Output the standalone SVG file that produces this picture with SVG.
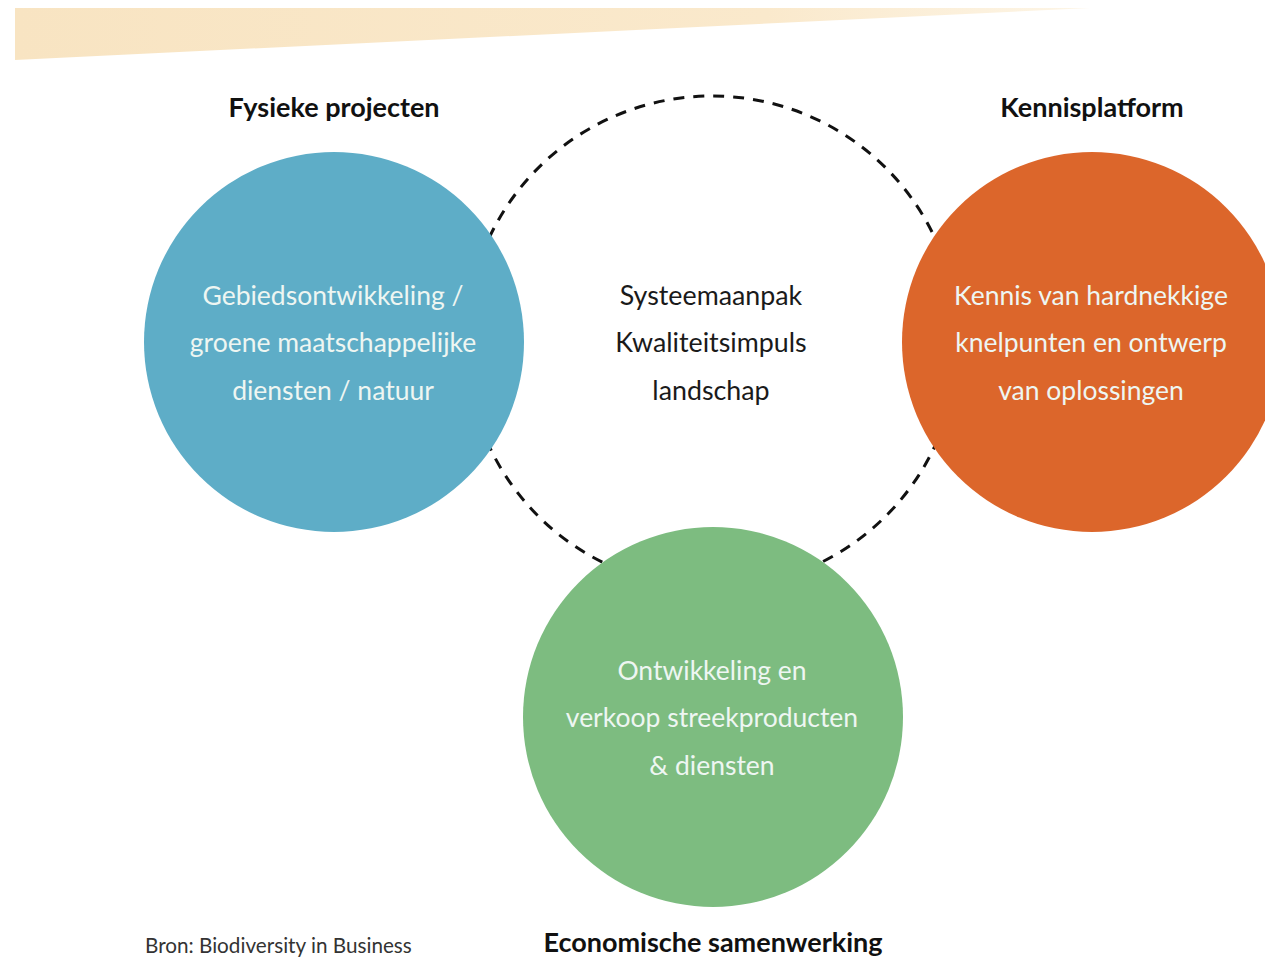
<svg xmlns="http://www.w3.org/2000/svg" width="1265" height="957" viewBox="0 0 1265 957">
<style>
.title{font-family:Lato,"Open Sans",sans-serif;font-weight:700;font-size:27px;fill:#111;text-anchor:middle}
.inner{font-family:Lato,"Open Sans",sans-serif;font-size:26.5px;fill:#EEF6F2;text-anchor:middle}
.center{font-family:Lato,"Open Sans",sans-serif;font-size:26.8px;fill:#1a1a1a;text-anchor:middle}
.src{font-family:Lato,"Open Sans",sans-serif;font-size:20.7px;fill:#333}
</style>
<defs>
<linearGradient id="band" x1="0" y1="0" x2="1" y2="0">
<stop offset="0" stop-color="#F8E4C2"/>
<stop offset="0.7" stop-color="#FAE9CC"/>
<stop offset="1" stop-color="#FDF5E6"/>
</linearGradient>
</defs>
<rect width="1265" height="957" fill="#fff"/>
<polygon points="15,8 1090,8 15,60" fill="url(#band)"/>
<g id="connectors">
<circle cx="712" cy="342" r="246" fill="none" stroke="#111" stroke-width="3" stroke-dasharray="11 9"/>
</g>
<g id="fysieke">
<circle cx="334" cy="342" r="190" fill="#5EADC7"/>
<text class="title" x="334" y="117">Fysieke projecten</text>
<text class="inner" x="333" y="305">Gebiedsontwikkeling /</text>
<text class="inner" x="333" y="352">groene maatschappelijke</text>
<text class="inner" x="333" y="400">diensten / natuur</text>
</g>
<g id="kennis">
<circle cx="1092" cy="342" r="190" fill="#DC662B"/>
<text class="title" x="1092" y="117">Kennisplatform</text>
<text class="inner" x="1091" y="305">Kennis van hardnekkige</text>
<text class="inner" x="1091" y="352">knelpunten en ontwerp</text>
<text class="inner" x="1091" y="400">van oplossingen</text>
</g>
<g id="economisch">
<circle cx="713" cy="717" r="190" fill="#7DBC80"/>
<text class="inner" x="712" y="680">Ontwikkeling en</text>
<text class="inner" x="712" y="727">verkoop streekproducten</text>
<text class="inner" x="712" y="775">&amp; diensten</text>
<text class="title" x="713" y="952">Economische samenwerking</text>
</g>
<g id="systeem">
<text class="center" x="711" y="305">Systeemaanpak</text>
<text class="center" x="711" y="352">Kwaliteitsimpuls</text>
<text class="center" x="711" y="400">landschap</text>
</g>
<text class="src" x="145" y="953">Bron: Biodiversity in Business</text>
</svg>
